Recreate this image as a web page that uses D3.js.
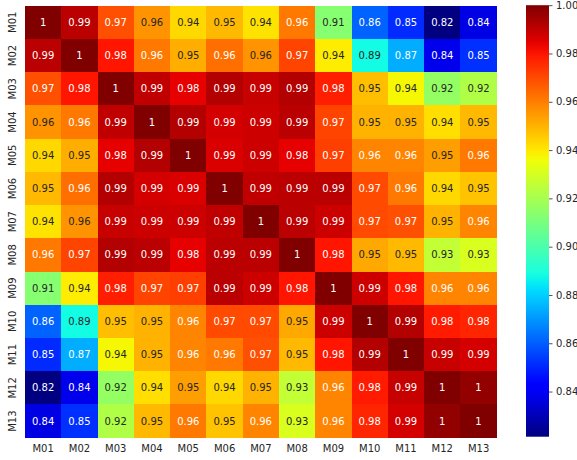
<!DOCTYPE html>
<html>
<head>
<meta charset="utf-8">
<script src="https://cdn.jsdelivr.net/npm/d3@7"></script>
<style>
  html, body { margin: 0; padding: 0; background: #fff; }
  svg { display: block; font-family: "DejaVu Sans", sans-serif; }
</style>
</head>
<body>
<svg id="chart" width="577" height="460"></svg>
<script>
// Model labels (rows and columns share the same order)
const models = ["M01","M02","M03","M04","M05","M06","M07","M08","M09","M10","M11","M12","M13"];

// Pairwise correlation, one row per model
const rowM01 = [1.000, 0.991, 0.969, 0.956, 0.943, 0.949, 0.941, 0.961, 0.913, 0.861, 0.851, 0.8213, 0.837];
const rowM02 = [0.991, 1.000, 0.980, 0.961, 0.951, 0.963, 0.956, 0.971, 0.939, 0.888, 0.874, 0.838, 0.852];
const rowM03 = [0.969, 0.980, 1.000, 0.990, 0.984, 0.992, 0.989, 0.992, 0.978, 0.948, 0.937, 0.916, 0.922];
const rowM04 = [0.956, 0.961, 0.990, 1.000, 0.992, 0.987, 0.988, 0.991, 0.971, 0.950, 0.950, 0.942, 0.949];
const rowM05 = [0.943, 0.951, 0.984, 0.992, 1.000, 0.986, 0.988, 0.984, 0.972, 0.959, 0.959, 0.954, 0.961];
const rowM06 = [0.949, 0.963, 0.992, 0.987, 0.986, 1.000, 0.990, 0.991, 0.991, 0.970, 0.961, 0.943, 0.947];
const rowM07 = [0.941, 0.956, 0.989, 0.988, 0.988, 0.990, 1.000, 0.991, 0.988, 0.970, 0.969, 0.950, 0.959];
const rowM08 = [0.961, 0.971, 0.992, 0.991, 0.984, 0.991, 0.991, 1.000, 0.980, 0.952, 0.949, 0.926, 0.931];
const rowM09 = [0.913, 0.939, 0.978, 0.971, 0.972, 0.991, 0.988, 0.980, 1.000, 0.988, 0.980, 0.959, 0.959];
const rowM10 = [0.861, 0.888, 0.948, 0.950, 0.959, 0.970, 0.970, 0.952, 0.988, 1.000, 0.992, 0.979, 0.977];
const rowM11 = [0.851, 0.874, 0.937, 0.950, 0.959, 0.961, 0.969, 0.949, 0.980, 0.992, 1.000, 0.989, 0.987];
const rowM12 = [0.8213, 0.838, 0.916, 0.942, 0.954, 0.943, 0.950, 0.926, 0.959, 0.979, 0.989, 1.000, 0.997];
const rowM13 = [0.837, 0.852, 0.922, 0.949, 0.961, 0.947, 0.959, 0.931, 0.959, 0.977, 0.987, 0.997, 1.000];

const matrix = [rowM01,rowM02,rowM03,rowM04,rowM05,rowM06,rowM07,rowM08,rowM09,rowM10,rowM11,rowM12,rowM13];

// Colour bar ticks
const colorbarTicks = [0.84, 0.86, 0.88, 0.90, 0.92, 0.94, 0.96, 0.98, 1.00];

// Classic "jet" colormap, piecewise linear in each channel
function interpSeg(seg, t) {
  for (let i = 1; i < seg.length; i++) {
    if (t <= seg[i][0]) {
      const [x0, y0] = seg[i-1], [x1, y1] = seg[i];
      return y0 + (y1 - y0) * (t - x0) / (x1 - x0);
    }
  }
  return seg[seg.length-1][1];
}
const jetR = [[0,0],[0.35,0],[0.66,1],[0.89,1],[1,0.5]];
const jetG = [[0,0],[0.125,0],[0.375,1],[0.64,1],[0.91,0],[1,0]];
const jetB = [[0,0.5],[0.11,1],[0.34,1],[0.65,0],[1,0]];
function jetRGB(t) {
  t = Math.max(0, Math.min(1, t));
  return [interpSeg(jetR, t), interpSeg(jetG, t), interpSeg(jetB, t)];
}
function jet(t) {
  const [r, g, b] = jetRGB(t);
  return d3.rgb(r * 255, g * 255, b * 255).formatHex();
}
// Annotation colour from the cell's relative luminance
function textColor(t) {
  const lin = c => c <= 0.03928 ? c / 12.92 : Math.pow((c + 0.055) / 1.055, 2.4);
  const [r, g, b] = jetRGB(t);
  const lum = 0.2126 * lin(r) + 0.7152 * lin(g) + 0.0722 * lin(b);
  return lum > 0.408 ? "#262626" : "#ffffff";
}

const allVals = matrix.flat();
const vmin = d3.min(allVals), vmax = d3.max(allVals);
const norm = d3.scaleLinear().domain([vmin, vmax]).range([0, 1]);

const svg = d3.select("#chart");
const plotLeft = 25, plotRight = 496.7, plotTop = 5.7, plotBottom = 437.7;

const x = d3.scaleBand().domain(models).range([plotLeft, plotRight]).paddingInner(0).paddingOuter(0);
const y = d3.scaleBand().domain(models).range([plotTop, plotBottom]).paddingInner(0).paddingOuter(0);

// Cells
const cells = [];
matrix.forEach((row, i) => row.forEach((v, j) => cells.push({ r: models[i], c: models[j], v })));

const g = svg.append("g");
g.selectAll("rect.cell").data(cells).enter().append("rect")
  .attr("class", "cell")
  .attr("x", d => x(d.c))
  .attr("y", d => y(d.r))
  .attr("width", x.bandwidth() + 0.4)
  .attr("height", y.bandwidth() + 0.4)
  .attr("fill", d => jet(norm(d.v)))
  .attr("shape-rendering", "crispEdges");

// Annotations: two decimals, trailing zeros trimmed
const fmt = v => {
  const s = v.toFixed(2);
  return s.replace(/\.?0+$/, "");
};
g.selectAll("text.annot").data(cells).enter().append("text")
  .attr("class", "annot")
  .attr("x", d => x(d.c) + x.bandwidth() / 2)
  .attr("y", d => y(d.r) + y.bandwidth() / 2)
  .attr("text-anchor", "middle")
  .attr("dominant-baseline", "central")
  .attr("font-size", "10px")
  .attr("fill", d => textColor(norm(d.v)))
  .text(d => fmt(d.v));

// Axes (no tick marks, labels only)
const xAxis = svg.append("g")
  .attr("transform", `translate(0,${plotBottom})`)
  .call(d3.axisBottom(x).tickSize(0).tickPadding(7));
xAxis.select(".domain").remove();
xAxis.selectAll("text").attr("font-size", "10px").attr("font-family", "DejaVu Sans, sans-serif").attr("fill", "#262626");

const yAxis = svg.append("g")
  .attr("transform", `translate(${plotLeft},0)`)
  .call(d3.axisLeft(y).tickSize(0).tickPadding(0));
yAxis.select(".domain").remove();
yAxis.selectAll("text")
  .attr("font-size", "10px").attr("font-family", "DejaVu Sans, sans-serif").attr("fill", "#262626")
  .attr("x", null).attr("dy", null)
  .attr("text-anchor", "middle")
  .attr("dominant-baseline", "central")
  .attr("transform", "translate(-13,0) rotate(-90)");

// Colour bar
const cbX = 526, cbW = 23;
const cbScale = d3.scaleLinear().domain([vmin, vmax]).range([plotBottom - 1, plotTop - 0.5]);
const defs = svg.append("defs");
const grad = defs.append("linearGradient").attr("id", "jetgrad")
  .attr("x1", 0).attr("y1", 1).attr("x2", 0).attr("y2", 0);
d3.range(0, 1.0001, 0.02).forEach(t => {
  grad.append("stop").attr("offset", t).attr("stop-color", jet(t));
});
svg.append("rect")
  .attr("x", cbX).attr("y", cbScale(vmax))
  .attr("width", cbW).attr("height", cbScale(vmin) - cbScale(vmax))
  .attr("fill", "url(#jetgrad)");

const cbAxis = svg.append("g")
  .attr("transform", `translate(${cbX + cbW},0)`)
  .call(d3.axisRight(cbScale).tickValues(colorbarTicks).tickFormat(d3.format(".2f")).tickSize(3.5).tickPadding(3.5));
cbAxis.select(".domain").remove();
cbAxis.selectAll("line").attr("stroke", "#262626").attr("stroke-width", 0.8);
cbAxis.selectAll("text").attr("font-size", "10px").attr("font-family", "DejaVu Sans, sans-serif").attr("fill", "#262626");
</script>
</body>
</html>
